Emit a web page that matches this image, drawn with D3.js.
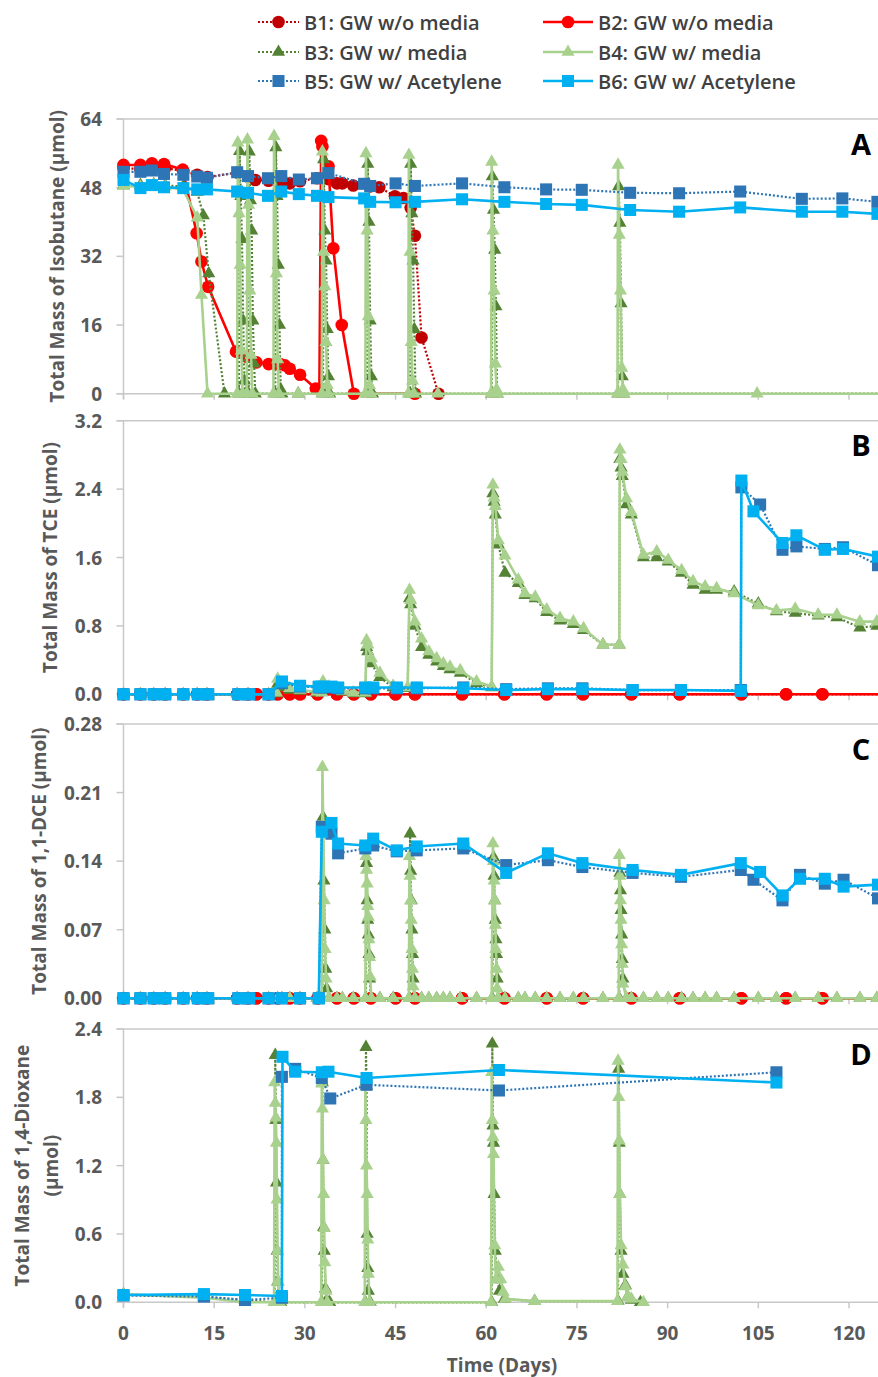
<!DOCTYPE html>
<html>
<head>
<meta charset="utf-8">
<script src="https://cdn.jsdelivr.net/npm/d3@7"></script>
<style>
  body { margin: 0; background: #fff; }
  svg { display: block; }
</style>
</head>
<body>
<div id="chart"></div>
<script>
// ---- Data: [day, value] pairs ----

// A: isobutane (umol)
const isoB1 = [[0,52.6],[2.8,52.3],[5,53],[6.9,52.6],[9.9,51.8],[12.2,51],[13.9,50.5],[18.9,51.5],[20.6,50.6],[21.8,49.8],[24,49.6],[26.1,49.3],[27.5,49],[29.2,49.5],[32,50.2],[33.9,50],[35.3,49],[36.2,49],[38,48.5],[40.8,48.3],[42.3,48.1],[44.9,46],[46.3,45.6],[47.5,43.3],[48.2,36.8],[49.3,13.1],[52.1,0]];
const isoB2 = [[0,53.3],[2.8,53.3],[4.7,53.7],[6.7,53.5],[9.8,52.2],[12.1,37.4],[12.9,30.8],[14,24.9],[18.6,9.8],[20.4,8.6],[22,7.3],[24,6.9],[25.1,6.9],[25.9,6.9],[26.7,6.6],[27.5,5.8],[29.2,4.4],[31.8,1.2],[32.4,0.9],[32.7,58.9],[32.9,57.6],[33.9,53],[34.7,33.9],[36.1,16],[38.1,0],[48.2,0]];
const isoB3 = [[0,48.5],[2.8,48.6],[5,48.8],[6.9,48.5],[9.9,48.3],[12.2,47],[13.2,41.5],[14.1,28],[16.7,0],[19.1,0],[19.2,56.5],[19.4,46],[19.6,36],[19.8,17],[20,3],[20.2,0],[20.7,0],[20.8,56.4],[21,45],[21.2,38],[21.4,17],[21.6,7],[21.8,0],[25.1,0],[25.2,57.4],[25.4,46],[25.6,30],[25.8,16],[26,1],[26.2,0],[28.9,0],[33,0],[33.1,54.6],[33.3,38],[33.5,31],[33.7,15],[33.9,4],[34.1,0],[40.3,0],[40.4,53.5],[40.6,40],[40.8,17],[41,4],[41.2,0],[47.4,0],[47.5,53.5],[47.7,42],[47.9,31],[48.1,15],[48.3,0],[60.9,0],[61,50.6],[61.2,42.8],[61.4,33.5],[61.6,20.3],[61.8,0],[81.8,0],[81.9,48.3],[82.1,39.8],[82.3,21],[82.5,4],[82.7,0],[126,0]];
const isoB4 = [[0,48.4],[2.8,48.2],[5,48.6],[6.9,48.2],[9.9,47.5],[12.2,41],[12.9,23],[13.9,0],[18.8,0],[18.9,58.5],[19.1,42],[19.3,30],[19.5,10],[19.7,0],[20.4,0],[20.5,59.2],[20.7,44],[20.9,24],[21.1,9],[21.3,0],[24.8,0],[24.9,60],[25.1,47],[25.3,28],[25.5,8],[25.7,0],[28.9,0],[32.8,0],[32.9,56.4],[33.1,33],[33.3,25],[33.5,12],[33.7,2],[33.9,0],[40,0],[40.1,56],[40.3,38],[40.5,18],[40.7,2],[40.9,0],[47.1,0],[47.2,55.6],[47.4,33],[47.6,12],[47.8,3],[48,0],[52,0],[60.8,0],[60.9,54],[61.1,38],[61.3,24],[61.5,7],[61.7,1],[61.9,0],[81.7,0],[81.8,53.3],[82,37],[82.2,24],[82.4,6],[82.6,1],[82.8,0],[104.8,0],[126,0]];
const isoB5 = [[0,51.7],[2.8,51.7],[4.7,52],[6.7,51.2],[9.9,51],[12.2,50.6],[13.8,50.3],[18.8,51.6],[20.6,50.7],[23.9,50.2],[26.1,50.7],[29,49.9],[32,50.2],[33.9,51.4],[39.8,48.9],[40.8,48.4],[45,49],[48.2,48.4],[56,49],[63,48.1],[69.9,47.6],[75.8,47.5],[83.8,46.8],[91.9,46.7],[102,47.1],[112.2,45.4],[118.9,45.5],[124.7,44.7]];
const isoB6 = [[0,49.8],[2.8,47.9],[4.7,48.6],[6.7,48.1],[9.9,47.9],[12.2,47.6],[13.8,47.6],[18.8,47.1],[20.6,46.8],[23.9,46.1],[26.1,47.1],[29,46.5],[32,46.1],[33.9,45.8],[39.8,45.5],[40.8,44.7],[45,44.6],[48.2,44.7],[56,45.3],[63,44.7],[69.9,44.2],[75.8,44],[83.8,42.8],[91.9,42.4],[102,43.4],[112.2,42.4],[118.9,42.4],[124.7,41.9]];

// B and C: B1/B2 were zero at every sampling day
const redDaysBC = [0,2.8,5,6.9,9.9,12.2,13.8,18.8,20.6,22,24,25.5,27.5,29.2,32.1,35.3,38.1,40.9,45,48.2,56,63,70,76,84,92,102.2,109.6,115.6,126];
const redValsBC = [0,0,0,0,0,0,0,0,0,0,0,0,0,0,0,0,0,0,0,0,0,0,0,0,0,0,0,0,0,0];

// B: TCE (umol)
const tceB3 = [[0,0],[2.8,0],[5,0],[6.9,0],[9.9,0],[12.2,0],[13.8,0],[18.8,0],[20.6,0],[24,0],[25.3,0.01],[25.5,0.12],[26.2,0.08],[27.5,0.05],[29.2,0.04],[32,0.02],[33,0.1],[34,0.07],[35.3,0.05],[36.2,0.03],[38,0.01],[40,0.01],[40.2,0.55],[40.4,0.5],[41,0.36],[42.4,0.2],[44.6,0.08],[47,0.07],[47.3,1.12],[47.5,1.05],[48.2,0.8],[49.3,0.55],[50.5,0.46],[51.8,0.38],[52.9,0.33],[54,0.29],[55.7,0.25],[58.4,0.13],[60.9,0.08],[61.1,2.35],[61.3,2.25],[61.5,2.1],[62,1.75],[63.1,1.42],[65.3,1.3],[66.4,1.16],[68.1,1.12],[70,0.96],[72.2,0.86],[74.4,0.82],[76.1,0.75],[79.3,0.58],[82,0.58],[82.1,2.75],[82.3,2.65],[82.5,2.55],[83.2,2.22],[84,2.1],[86,1.6],[88.2,1.6],[90.1,1.55],[92.3,1.42],[94.2,1.28],[96.2,1.22],[98.1,1.22],[101,1.2],[105,1.06],[108,0.97],[111.1,0.95],[114.9,0.92],[118,0.9],[121.8,0.78],[124.6,0.8],[126,0.8]];
const tceB4 = [[0,0],[2.8,0],[5,0],[6.9,0],[9.9,0],[12.2,0],[13.8,0],[18.8,0],[20.6,0],[24,0],[25.3,0.02],[25.5,0.18],[26.2,0.11],[27.5,0.07],[29.2,0.05],[32,0.03],[32.8,0.02],[33,0.15],[34,0.09],[35.3,0.06],[36.2,0.04],[38,0.02],[40,0.02],[40.2,0.63],[40.4,0.58],[41,0.42],[42.4,0.25],[44.6,0.1],[47,0.08],[47.3,1.22],[47.5,1.1],[48.2,0.85],[49.3,0.65],[50.5,0.5],[51.8,0.42],[52.9,0.36],[54,0.32],[55.7,0.28],[58.4,0.15],[60.9,0.09],[61.1,2.45],[61.3,2.3],[61.5,2.2],[62,1.8],[63.1,1.62],[65.3,1.34],[66.4,1.18],[68.1,1.14],[70,0.99],[72.2,0.89],[74.4,0.85],[76.1,0.77],[79.3,0.58],[82,0.58],[82.1,2.86],[82.3,2.75],[82.5,2.6],[83.2,2.29],[84,2.13],[86,1.63],[88.2,1.67],[90.1,1.57],[92.3,1.45],[94.2,1.32],[96.2,1.26],[98.1,1.24],[101,1.18],[105,1.04],[108,0.98],[111.1,1],[114.9,0.93],[118,0.93],[121.8,0.85],[124.6,0.85],[126,0.84]];
const tceB5 = [[0,0],[2.8,0],[5,0],[6.9,0],[9.9,0],[12.3,0],[14,0],[19,0],[20.8,0],[24,0],[26.2,0.13],[29.2,0.09],[32.3,0.08],[32.8,0.08],[34.4,0.08],[35.5,0.07],[40,0.07],[41.3,0.07],[45.2,0.07],[48.5,0.07],[56.2,0.08],[63.3,0.06],[70.2,0.07],[75.9,0.07],[84.2,0.05],[92.2,0.05],[102.1,0.05],[102.2,2.42],[105.3,2.22],[109,1.69],[111.3,1.73],[116,1.7],[119,1.72],[124.8,1.51]];
const tceB6 = [[0,0],[2.8,0],[5,0],[6.9,0],[9.9,0],[12.3,0],[14,0],[19,0],[20.8,0],[24,0],[26.2,0.15],[29.2,0.1],[32.3,0.09],[32.8,0.09],[34.4,0.09],[35.5,0.08],[40,0.08],[41.3,0.08],[45.2,0.08],[48.5,0.08],[56.2,0.07],[63.3,0.05],[70.2,0.06],[75.9,0.06],[84.2,0.05],[92.2,0.05],[102.1,0.04],[102.2,2.5],[104.2,2.14],[109,1.77],[111.3,1.86],[116,1.69],[119,1.7],[124.8,1.61]];

// C: 1,1-DCE (umol)
const dceB3 = [[0,0],[2.8,0],[5,0],[6.9,0],[9.9,0],[12.2,0],[13.8,0],[18.8,0],[20.6,0],[24,0],[25.5,0],[26.2,0],[27.5,0],[29.2,0],[32,0],[32.9,0],[33,0.185],[33.15,0.12],[33.3,0.07],[33.45,0.03],[33.6,0.01],[34,0],[35.3,0],[36.2,0],[38,0],[40.1,0],[40.2,0.138],[40.3,0.1],[40.4,0.08],[40.5,0.065],[40.6,0.045],[40.7,0.02],[40.9,0],[42.4,0],[44.6,0],[47.3,0],[47.4,0.168],[47.5,0.13],[47.6,0.1],[47.7,0.07],[47.8,0.045],[47.9,0.02],[48.2,0],[49.3,0],[50.5,0],[51.8,0],[52.9,0],[54,0],[55.7,0],[58.4,0],[61,0],[61.2,0.144],[61.3,0.125],[61.4,0.1],[61.5,0.08],[61.6,0.06],[61.7,0.045],[61.8,0.02],[62,0],[63.1,0],[65.3,0],[66.4,0],[68.1,0],[70,0],[72.2,0],[74.4,0],[76.1,0],[79.3,0],[82,0],[82.1,0.128],[82.2,0.11],[82.3,0.09],[82.4,0.065],[82.5,0.04],[82.6,0.02],[83.2,0],[84,0],[86,0],[88.2,0],[90.1,0],[92.3,0],[94.2,0],[96.2,0],[98.1,0],[101,0],[105,0],[108,0],[111.1,0],[114.9,0],[118,0],[121.8,0],[124.6,0],[126,0]];
const dceB4 = [[0,0],[2.8,0],[5,0],[6.9,0],[9.9,0],[12.2,0],[13.8,0],[18.8,0],[20.6,0],[24,0],[25.5,0],[26.2,0],[27.5,0],[29.2,0],[32,0],[32.8,0],[32.9,0.236],[33.05,0.17],[33.2,0.1],[33.35,0.05],[33.5,0.02],[34,0],[35.3,0],[36.2,0],[38,0],[40,0],[40.1,0.145],[40.2,0.131],[40.3,0.117],[40.4,0.094],[40.5,0.083],[40.6,0.06],[40.7,0.042],[40.8,0.022],[41,0],[42.4,0],[44.6,0],[47.2,0],[47.3,0.145],[47.4,0.125],[47.5,0.1],[47.6,0.08],[47.7,0.05],[47.8,0.03],[47.9,0.012],[48.2,0],[49.3,0],[50.5,0],[51.8,0],[52.9,0],[54,0],[55.7,0],[58.4,0],[60.9,0],[61.1,0.158],[61.2,0.14],[61.3,0.12],[61.4,0.1],[61.5,0.075],[61.6,0.05],[61.7,0.03],[61.8,0.01],[62,0],[63.1,0],[65.3,0],[66.4,0],[68.1,0],[70,0],[72.2,0],[74.4,0],[76.1,0],[79.3,0],[81.9,0],[82,0.146],[82.1,0.125],[82.2,0.1],[82.3,0.08],[82.4,0.055],[82.5,0.035],[82.6,0.015],[83.2,0],[84,0],[86,0],[88.2,0],[90.1,0],[92.3,0],[94.2,0],[96.2,0],[98.1,0],[101,0],[105,0],[108,0],[111.1,0],[114.9,0],[118,0],[121.8,0],[124.6,0],[126,0]];
const dceB5 = [[0,0],[2.8,0],[5,0],[6.9,0],[9.9,0],[12.3,0],[14,0],[19,0],[20.8,0],[24,0],[26.2,0],[29.2,0],[32.3,0],[32.8,0.175],[34.4,0.168],[35.5,0.148],[40,0.153],[41.3,0.156],[45.2,0.15],[48.5,0.151],[56.2,0.153],[63.3,0.136],[70.2,0.141],[75.9,0.134],[84.2,0.128],[92.2,0.124],[102.1,0.131],[104.2,0.121],[109,0.1],[111.9,0.126],[116,0.117],[119.1,0.121],[124.8,0.102]];
const dceB6 = [[0,0],[2.8,0],[5,0],[6.9,0],[9.9,0],[12.3,0],[14,0],[19,0],[20.8,0],[24,0],[26.2,0],[29.2,0],[32.3,0],[32.8,0.17],[34.4,0.179],[35.5,0.158],[40,0.156],[41.3,0.163],[45.2,0.151],[48.5,0.155],[56.2,0.158],[63.3,0.128],[70.2,0.148],[75.9,0.138],[84.2,0.131],[92.2,0.126],[102.1,0.138],[105.3,0.129],[109,0.105],[111.9,0.122],[116,0.122],[119.1,0.114],[124.8,0.116]];

// D: 1,4-dioxane (umol)
const dxB3 = [[0,0.07],[13.3,0.05],[20.1,0.02],[25,0],[25.1,2.17],[25.2,1.6],[25.3,1.05],[25.4,0.45],[25.5,0.18],[25.7,0.03],[26,0],[32.8,0],[32.9,1.93],[33,1.25],[33.1,0.66],[33.2,0.45],[33.4,0.12],[33.6,0.02],[34.1,0],[40,0],[40.1,2.24],[40.2,1.9],[40.3,0.6],[40.4,0.3],[40.5,0.1],[40.8,0],[60.9,0],[61,2.27],[61.1,1.55],[61.2,1.4],[61.3,0.95],[61.5,0.45],[61.8,0.2],[62.2,0.1],[63,0.03],[68,0.01],[81.8,0.01],[81.9,2.05],[82,1.4],[82.1,0.95],[82.3,0.45],[82.6,0.25],[83,0.15],[83.4,0.05],[84,0.02],[85.5,0]];
const dxB4 = [[0,0.07],[13.3,0.04],[20.1,0],[24.9,0],[25,1.93],[25.1,1.75],[25.2,1.62],[25.3,1.4],[25.4,0.9],[25.5,0.45],[25.6,0.18],[25.8,0],[32.7,0],[32.8,1.92],[32.9,1.7],[33,1.25],[33.1,0.95],[33.2,0.65],[33.3,0.35],[33.5,0.1],[33.7,0],[39.9,0],[40,1.93],[40.1,1.6],[40.2,1.2],[40.3,0.95],[40.4,0.55],[40.5,0.25],[40.7,0],[60.8,0],[60.9,2.02],[61,1.6],[61.1,1.45],[61.2,1.3],[61.4,0.5],[61.6,0.2],[62,0.31],[62.4,0.2],[62.8,0.09],[63.2,0.03],[68,0.01],[81.7,0.01],[81.8,2.12],[81.9,1.8],[82,1.42],[82.1,0.95],[82.3,0.5],[82.6,0.33],[83,0.14],[83.4,0.05],[84,0.03],[86,0]];
const dxB5 = [[0,0.06],[13.3,0.05],[20.1,0.02],[26.2,0.04],[26.2,1.98],[28.4,2.05],[32.8,1.97],[34.2,1.79],[40.2,1.91],[62.1,1.86],[108,2.02]];
const dxB6 = [[0,0.064],[13.3,0.072],[20.1,0.064],[26.2,0.055],[26.3,2.156],[28.4,2.025],[32.8,2.02],[33.9,2.025],[40.2,1.97],[62.1,2.04],[108,1.93]];

const xTicks = [0, 15, 30, 45, 60, 75, 90, 105, 120];
const seriesNames = ["B1: GW w/o media", "B2: GW w/o media", "B3: GW w/ media", "B4: GW w/ media", "B5: GW w/ Acetylene", "B6: GW w/ Acetylene"];

// ---- Styles ----
const styles = [
  { color: "#C00000", dotted: true,  shape: d3.symbolCircle,   size: 125 },
  { color: "#FF0000", dotted: false, shape: d3.symbolCircle,   size: 125 },
  { color: "#548235", dotted: true,  shape: d3.symbolTriangle, size: 75 },
  { color: "#A9D18E", dotted: false, shape: d3.symbolTriangle, size: 75 },
  { color: "#2E75B6", dotted: true,  shape: d3.symbolSquare,   size: 145 },
  { color: "#00B0F0", dotted: false, shape: d3.symbolSquare,   size: 145 }
];
const axisGray = "#C8C8C8";
const textGray = "#595959";
const font = "'Open Sans', sans-serif";

const width = 878, height = 1377;
const svg = d3.select("#chart").append("svg")
  .attr("width", width).attr("height", height)
  .style("font-family", font);
svg.append("rect").attr("width", width).attr("height", height).attr("fill", "#fff");

const x = d3.scaleLinear().domain([0, 120]).range([123.5, 849]);
const plotRight = width;

const redBC = d3.zip(redDaysBC, redValsBC);

const panels = [
  { top: 119, bottom: 393.7, max: 64, ticks: [0, 16, 32, 48, 64], fmt: d3.format("d"),
    title: ["Total Mass of Isobutane (µmol)"], titleX: [57], letter: "A",
    data: [isoB1, isoB2, isoB3, isoB4, isoB5, isoB6] },
  { top: 420.7, bottom: 694.3, max: 3.2, ticks: [0, 0.8, 1.6, 2.4, 3.2], fmt: d3.format(".1f"),
    title: ["Total Mass of TCE (µmol)"], titleX: [50], letter: "B",
    data: [redBC, redBC, tceB3, tceB4, tceB5, tceB6] },
  { top: 724, bottom: 998.3, max: 0.28, ticks: [0, 0.07, 0.14, 0.21, 0.28], fmt: d3.format(".2f"),
    title: ["Total Mass of 1,1-DCE (µmol)"], titleX: [39], letter: "C",
    data: [redBC, redBC, dceB3, dceB4, dceB5, dceB6] },
  { top: 1029, bottom: 1302.3, max: 2.4, ticks: [0, 0.6, 1.2, 1.8, 2.4], fmt: d3.format(".1f"),
    title: ["Total Mass of 1,4-Dioxane", "(µmol)"], titleX: [22, 51], letter: "D",
    data: [null, null, dxB3, dxB4, dxB5, dxB6] }
];

panels.forEach((p, pi) => {
  const y = d3.scaleLinear().domain([0, p.max]).range([p.bottom, p.top]);
  const g = svg.append("g");

  // frame: top line, left axis, bottom axis
  g.append("line").attr("x1", x(0) - 7).attr("x2", plotRight)
    .attr("y1", p.top).attr("y2", p.top)
    .attr("stroke", axisGray).attr("stroke-width", 1.5);
  g.append("line").attr("x1", x(0)).attr("x2", x(0))
    .attr("y1", p.top).attr("y2", p.bottom + 5)
    .attr("stroke", axisGray).attr("stroke-width", 1.5);
  g.append("line").attr("x1", x(0) - 7).attr("x2", plotRight)
    .attr("y1", p.bottom).attr("y2", p.bottom)
    .attr("stroke", axisGray).attr("stroke-width", 1.5);

  // y ticks + labels
  p.ticks.forEach(t => {
    g.append("line").attr("x1", x(0) - 7).attr("x2", x(0))
      .attr("y1", y(t)).attr("y2", y(t))
      .attr("stroke", axisGray).attr("stroke-width", 1.5);
    g.append("text").attr("x", 102).attr("y", y(t))
      .attr("text-anchor", "end").attr("dominant-baseline", "central")
      .attr("font-size", 19).attr("font-weight", 700).attr("fill", textGray)
      .text(p.fmt(t));
  });

  // x ticks
  xTicks.forEach(t => {
    g.append("line").attr("x1", x(t)).attr("x2", x(t))
      .attr("y1", p.bottom).attr("y2", p.bottom + 6)
      .attr("stroke", axisGray).attr("stroke-width", 1.5);
  });

  // y-axis title
  const cy = (p.top + p.bottom) / 2;
  p.title.forEach((line, li) => {
    g.append("text")
      .attr("transform", `translate(${p.titleX[li]},${cy}) rotate(-90)`)
      .attr("text-anchor", "middle").attr("dominant-baseline", "central")
      .attr("font-size", 19).attr("font-weight", 700).attr("fill", textGray)
      .text(line);
  });

  // series
  const line = d3.line().x(d => x(d[0])).y(d => y(d[1]));
  p.data.forEach((series, si) => {
    if (!series) return;
    const s = styles[si];
    const sg = g.append("g");
    sg.append("path").datum(series)
      .attr("d", line).attr("fill", "none")
      .attr("stroke", s.color)
      .attr("stroke-width", s.dotted ? 2.2 : 2.6)
      .attr("stroke-dasharray", s.dotted ? "2,2" : null);
    sg.selectAll("path.m").data(series).join("path")
      .attr("class", "m")
      .attr("d", d3.symbol().type(s.shape).size(s.size))
      .attr("transform", d => `translate(${x(d[0])},${y(d[1])})`)
      .attr("fill", s.color);
  });

  // panel letter
  g.append("text").attr("x", 861).attr("y", p.top + 24)
    .attr("text-anchor", "middle").attr("dominant-baseline", "central")
    .attr("font-size", 29).attr("font-weight", 700).attr("fill", "#000")
    .text(p.letter);

  // x tick labels only under the last panel
  if (pi === panels.length - 1) {
    xTicks.forEach(t => {
      g.append("text").attr("x", x(t)).attr("y", p.bottom + 31)
        .attr("text-anchor", "middle").attr("dominant-baseline", "central")
        .attr("font-size", 19).attr("font-weight", 700).attr("fill", textGray)
        .text(t);
    });
    g.append("text").attr("x", 502).attr("y", 1365)
      .attr("text-anchor", "middle").attr("dominant-baseline", "central")
      .attr("font-size", 19).attr("font-weight", 700).attr("fill", textGray)
      .text("Time (Days)");
  }
});

// ---- Legend ----
const legendRows = [22, 52, 81];
seriesNames.forEach((name, i) => {
  const s = styles[i];
  const col = i % 2, row = Math.floor(i / 2);
  const x0 = col === 0 ? 258 : 543;
  const x1 = col === 0 ? 299 : 593;
  const ly = legendRows[row];
  const lg = svg.append("g");
  lg.append("line").attr("x1", x0).attr("x2", x1).attr("y1", ly).attr("y2", ly)
    .attr("stroke", s.color).attr("stroke-width", s.dotted ? 2.2 : 2.6)
    .attr("stroke-dasharray", s.dotted ? "2,2" : null);
  lg.append("path").attr("d", d3.symbol().type(s.shape).size(s.size))
    .attr("transform", `translate(${(x0 + x1) / 2},${ly})`).attr("fill", s.color);
  lg.append("text").attr("x", x1 + 5).attr("y", ly)
    .attr("dominant-baseline", "central")
    .attr("font-size", 20).attr("font-weight", 600).attr("fill", "#404040")
    .text(name);
});
</script>
</body>
</html>
